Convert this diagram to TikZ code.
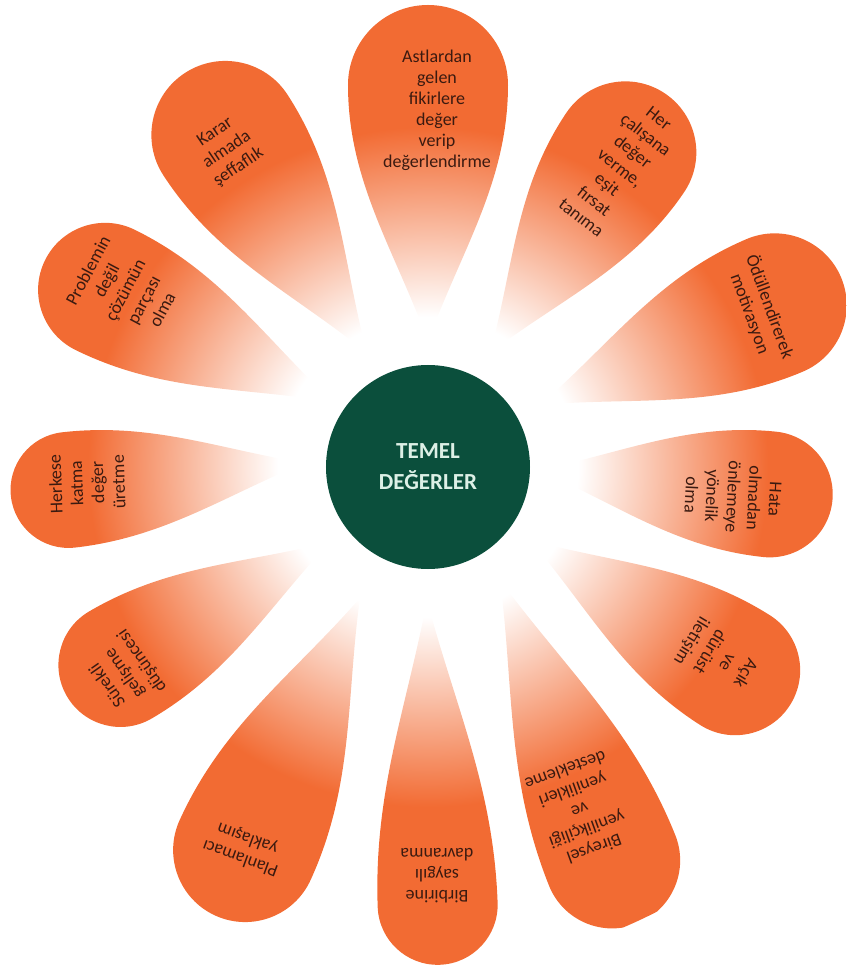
\documentclass[tikz,border=0pt]{standalone}
\usepackage{fontspec}
\setmainfont{Carlito}
\definecolor{petal}{HTML}{F26B33}
\definecolor{coregreen}{HTML}{0B4F3C}
\definecolor{ink}{HTML}{3B1A10}
\definecolor{paleink}{HTML}{DDF0E6}
\pgfdeclareradialshading{petalglow}{\pgfpointorigin}{color(0bp)=(white); color(7.5bp)=(white); color(17bp)=(petal); color(50bp)=(petal)}
\tikzset{
  petaltext/.style={text=ink, align=center, font=\fontsize{18}{21}\selectfont},
  corenode/.style={circle, fill=coregreen, minimum size=204pt, inner sep=0pt,
    text=paleink, align=center, font=\fontsize{23}{31}\selectfont\bfseries}
}
\begin{document}
\begin{tikzpicture}[x=1pt,y=1pt]
        \useasboundingbox (-428,-504) rectangle (418,467);
        % petals: tip x / tip y / angle / tip to round end / half width
        \foreach \tx/\ty/\ang/\dd/\wid in {0/125/90/257/80, -61/114/123/260/74, 62/114/56/242/71,
                                           112/62/23/255/72, 110/-3/-6/233/63, 102/-73/-32.4/243/65,
                                           72/-113/-68.2/302/68, -1/-133/-88/305/60, -68/-131/-114.5/277/72,
                                           -98/-75/-149.6/243/62, -123/4/186.5/238/58, -95/65/153.8/254/67}{
          \begin{scope}
            \clip[shift={(\tx,\ty)}, rotate=\ang]
              (0,0) .. controls (0.35*\dd,0.4*\wid) and (0.62*\dd,\wid) .. (\dd,\wid)
              arc[start angle=90, end angle=-90, radius=\wid]
              .. controls (0.62*\dd,-\wid) and (0.35*\dd,-0.4*\wid) .. (0,0) -- cycle;
            \shade[shading=petalglow] (0,0) circle (500);
          \end{scope}
        }

        \node[petaltext] (astlar) at (9,357) {Astlardan\\gelen\\fikirlere\\değer\\verip\\değerlendirme};
        \node[petaltext, rotate=34] (karar) at (-201,317) {Karar\\almada\\şeffaflık};
        \node[petaltext, rotate=-38] (calisan) at (192,299) {Her\\çalışana\\değer\\verme,\\eşit\\fırsat\\tanıma};
        \node[petaltext, rotate=-70] (odul) at (332,157) {Ödüllendirerek\\motivasyon};
        \node[petaltext, rotate=-93] (hata) at (305,-30) {Hata\\olmadan\\önlemeye\\yönelik\\olma};
        \node[petaltext, rotate=-121] (acik) at (290,-190) {Açık\\ve\\dürüst\\iletişim};
        \node[petaltext, rotate=-160] (bireysel) at (152,-343) {Bireysel\\yenilikçiliği\\ve\\yenilikleri\\destekleme};
        \node[petaltext, rotate=180] (birbirine) at (9,-409) {Birbirine\\saygılı\\davranma};
        \node[petaltext, rotate=160] (plan) at (-184,-381) {Planlamacı\\yaklaşım};
        \node[petaltext, rotate=125] (surekli) at (-303,-206) {Sürekli\\gelişme\\düşüncesi};
        \node[petaltext, rotate=92] (herkes) at (-341,-16) {Herkese\\katma\\değer\\üretme};
        \node[petaltext, rotate=62] (problem) at (-303,177) {Problemin\\değil\\çözümün\\parçası\\olma};

        \node[corenode] (core) at (0,0) {TEMEL\\DEĞERLER};
\end{tikzpicture}
\end{document}
